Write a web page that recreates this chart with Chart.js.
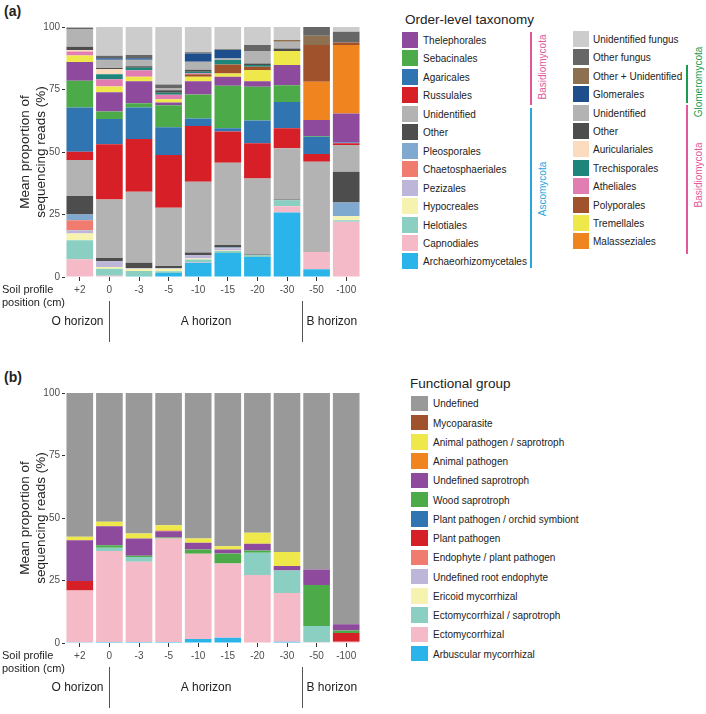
<!DOCTYPE html>
<html>
<head>
<meta charset="utf-8">
<title>Fungal community by soil depth</title>
<script src="https://cdn.jsdelivr.net/npm/chart.js@4/dist/chart.umd.min.js"></script>
<style>
  body { margin: 0; width: 706px; height: 714px; overflow: hidden; background: #fff;
         font-family: "Liberation Sans", Arial, sans-serif; color: #222; position: relative; }
  canvas { position: absolute; left: 0; }
  .tag { position: absolute; left: 4px; font-weight: bold; font-size: 14px; }
  .sw { position: absolute; }
  .lbl { position: absolute; font-size: 10px; white-space: nowrap; transform: translateY(-50%); }
  .ttl { position: absolute; font-size: 13.5px; white-space: nowrap; transform: translateY(-50%); }
  .brk { position: absolute; width: 2px; }
  .vt { position: absolute; font-size: 10px; white-space: nowrap; transform: translate(-50%, -50%) rotate(-90deg); }
</style>
</head>
<body>
<div class="tag" style="top:3px;">(a)</div>
<div class="tag" style="top:369px;">(b)</div>
<canvas id="chartA" width="380" height="350" style="top:0px;"></canvas>
<canvas id="chartB" width="380" height="350" style="top:366px;"></canvas>
<div id="legends"></div>

<script>
// soil depth (cm)
const depths = ['+2', '0', '-3', '-5', '-10', '-15', '-20', '-30', '-50', '-100'];
const horizons = ['O horizon', 'A horizon', 'B horizon'];

// (a) order-level taxonomy, % of reads, stacked bottom -> top
const archaeorhizomycetales = [0, 0, 0.3, 1.6, 5.7, 9.6, 8.0, 25.8, 3.1, 0];
const capnodiales = [7.1, 0.5, 0, 0, 0.3, 0, 0, 2.5, 6.9, 22.1];
const helotiales = [7.6, 2.8, 2.1, 0.7, 1.0, 0.8, 0.7, 2.4, 0, 0.6];
const hypocreales = [2.7, 0.7, 0.9, 1.0, 0.4, 0.2, 0, 0, 0, 1.6];
const pezizales = [1.3, 2.3, 0.3, 0.3, 1.3, 0.9, 0, 0, 0, 0];
const chaetosphaeriales = [4.0, 0, 0, 0, 0, 0, 0, 0, 0, 0];
const pleosporales = [2.3, 0, 0, 0, 0, 0.3, 0, 0, 0, 5.5];
const ascoOther = [7.4, 1.3, 2.1, 0.8, 1.1, 1.0, 0.3, 0.3, 0, 12.3];
const ascoUnidentified = [14.4, 23.4, 28.4, 23.3, 28.3, 32.9, 30.4, 20.5, 36.1, 10.7];
const russulales = [3.3, 22.1, 21.1, 21.1, 22.3, 12.5, 14.1, 8.0, 3.1, 0.7];
const agaricales = [17.7, 10.1, 12.6, 11.1, 3.0, 1.3, 9.1, 10.5, 6.9, 0.3];
const sebacinales = [10.7, 3.0, 1.7, 8.8, 9.6, 17.0, 13.5, 6.7, 0.3, 0];
const thelephorales = [7.5, 7.7, 8.8, 1.1, 5.3, 3.6, 2.2, 8.1, 6.4, 11.6];
const malasseziales = [0, 0, 0, 0, 0, 0, 0, 0, 15.3, 27.4];
const tremellales = [2.6, 2.3, 1.8, 1.3, 1.8, 1.3, 4.5, 5.6, 0, 0];
const polyporales = [0, 0, 0, 0, 1.0, 3.6, 1.3, 0, 14.7, 1.0];
const atheliales = [1.6, 2.9, 2.6, 1.8, 0.4, 0, 0, 0, 0, 0];
const trechisporales = [0, 2.0, 1.0, 0.8, 0.6, 1.8, 0.7, 0, 0, 0];
const auriculariales = [0.6, 2.1, 0, 0, 0, 0, 0, 0, 0, 0];
const basidioOther = [1.3, 0.4, 0.6, 1.0, 0.8, 0, 0.6, 1.0, 0, 0];
const basidioUnidentified = [6.9, 3.3, 2.6, 0.7, 3.2, 0.6, 5.0, 2.7, 0, 0];
const glomerales = [0, 0.6, 0.6, 0, 3.3, 3.4, 0, 0, 0, 0];
const glomOtherUnidentified = [0, 0, 0, 0, 0, 0, 0, 0.7, 3.7, 0];
const otherFungus = [0.7, 1.0, 1.3, 1.6, 0.5, 0.3, 2.4, 0, 3.5, 4.3];
const unidentifiedFungus = [0.3, 11.5, 11.2, 23.0, 10.1, 8.9, 7.2, 5.2, 0, 1.9];

// (b) functional groups, % of reads, stacked bottom -> top
const arbuscular = [0.3, 0.4, 0.4, 0.4, 1.6, 2.1, 0.2, 0.5, 0, 0];
const ectomycorrhizal = [20.7, 36.4, 32.1, 41.4, 34.1, 29.7, 27.0, 19.5, 0.3, 0.5];
const ectoSaprotroph = [0, 1.3, 1.9, 0, 0, 0, 8.9, 9.0, 6.5, 0];
const ericoid = [0, 0, 0, 0, 0, 0, 0, 0, 0, 0];
const rootEndophyte = [0, 0, 0, 0, 0, 0, 0, 0, 0, 0];
const endophytePathogen = [0, 0, 0, 0, 0, 0, 0, 0, 0, 0];
const plantPathogen = [3.8, 0, 0, 0, 0, 0, 0, 0, 0, 3.5];
const orchidSymbiont = [0, 0, 0, 0, 0, 0, 0, 0, 0, 0];
const woodSaprotroph = [0, 1.0, 0.5, 0.4, 1.7, 4.0, 0.9, 0, 16.4, 1.0];
const undefinedSaprotroph = [16.3, 7.6, 6.9, 2.5, 2.7, 1.6, 2.7, 1.8, 6.2, 2.5];
const animalPathogen = [0, 0, 0, 0.3, 0, 0, 0, 0, 0, 0];
const animalSaprotroph = [1.4, 1.8, 2.0, 2.1, 1.7, 1.3, 4.4, 5.6, 0, 0];
const mycoparasite = [0, 0, 0, 0, 0, 0, 0, 0, 0, 0];
const undefinedGroup = [57.5, 51.5, 56.2, 52.9, 58.2, 61.3, 55.9, 63.6, 70.6, 92.5];

const seriesA = [
  ['Archaeorhizomycetales', archaeorhizomycetales, '#2bb4e9'],
  ['Capnodiales', capnodiales, '#f5bac8'],
  ['Helotiales', helotiales, '#8acfc1'],
  ['Hypocreales', hypocreales, '#f6f3b1'],
  ['Pezizales', pezizales, '#bdb6d9'],
  ['Chaetosphaeriales', chaetosphaeriales, '#f07c70'],
  ['Pleosporales', pleosporales, '#7fa9cf'],
  ['Other', ascoOther, '#4d4d4d'],
  ['Unidentified', ascoUnidentified, '#b3b3b3'],
  ['Russulales', russulales, '#d61f26'],
  ['Agaricales', agaricales, '#3174b2'],
  ['Sebacinales', sebacinales, '#4cab48'],
  ['Thelephorales', thelephorales, '#8e4a9d'],
  ['Malasseziales', malasseziales, '#f0851f'],
  ['Tremellales', tremellales, '#efe84a'],
  ['Polyporales', polyporales, '#a0522d'],
  ['Atheliales', atheliales, '#e27db1'],
  ['Trechisporales', trechisporales, '#1e857a'],
  ['Auriculariales', auriculariales, '#fbdcbf'],
  ['Other', basidioOther, '#4d4d4d'],
  ['Unidentified', basidioUnidentified, '#b3b3b3'],
  ['Glomerales', glomerales, '#1f4e8c'],
  ['Other + Unidentified', glomOtherUnidentified, '#8c7050'],
  ['Other fungus', otherFungus, '#666666'],
  ['Unidentified fungus', unidentifiedFungus, '#cccccc']
];

const seriesB = [
  ['Arbuscular mycorrhizal', arbuscular, '#2bb4e9'],
  ['Ectomycorrhizal', ectomycorrhizal, '#f5bac8'],
  ['Ectomycorrhizal / saprotroph', ectoSaprotroph, '#8acfc1'],
  ['Ericoid mycorrhizal', ericoid, '#f6f3b1'],
  ['Undefined root endophyte', rootEndophyte, '#bdb6d9'],
  ['Endophyte / plant pathogen', endophytePathogen, '#f07c70'],
  ['Plant pathogen', plantPathogen, '#d61f26'],
  ['Plant pathogen / orchid symbiont', orchidSymbiont, '#3174b2'],
  ['Wood saprotroph', woodSaprotroph, '#4cab48'],
  ['Undefined saprotroph', undefinedSaprotroph, '#8e4a9d'],
  ['Animal pathogen', animalPathogen, '#f0851f'],
  ['Animal pathogen / saprotroph', animalSaprotroph, '#efe84a'],
  ['Mycoparasite', mycoparasite, '#a0522d'],
  ['Undefined', undefinedGroup, '#999999']
];

const FONT = '"Liberation Sans", Arial, sans-serif';

// horizon brackets + "Soil profile position" under the x axis
const horizonPlugin = {
  id: 'horizons',
  afterDraw(chart) {
    const ctx = chart.ctx;
    const x = chart.scales.x;
    const bot = chart.chartArea.bottom;
    const cut1 = Math.round(x.getPixelForValue(1)) + 0.5;
    const cut2 = Math.round((x.getPixelForValue(7) + x.getPixelForValue(8)) / 2) + 0.5;
    ctx.save();
    ctx.strokeStyle = '#555';
    ctx.lineWidth = 1;
    [cut1, cut2].forEach(px => {
      ctx.beginPath();
      ctx.moveTo(px, bot + 24);
      ctx.lineTo(px, bot + 65);
      ctx.stroke();
    });
    ctx.fillStyle = '#222';
    ctx.textBaseline = 'middle';
    ctx.font = '12px ' + FONT;
    ctx.textAlign = 'right';
    ctx.fillText(horizons[0], cut1 - 6, bot + 45);
    ctx.textAlign = 'center';
    ctx.fillText(horizons[1], (cut1 + cut2) / 2, bot + 45);
    ctx.textAlign = 'left';
    ctx.fillText(horizons[2], cut2 + 4, bot + 45);
    ctx.font = '11px ' + FONT;
    ctx.fillText('Soil profile', 2, bot + 13);
    ctx.fillText('position (cm)', 2, bot + 26);
    ctx.restore();
  }
};

function makeChart(id, series) {
  return new Chart(document.getElementById(id), {
    type: 'bar',
    data: {
      labels: depths,
      datasets: series.map(s => ({
        label: s[0],
        data: s[1],
        backgroundColor: s[2],
        borderWidth: 0,
        barPercentage: 0.9,
        categoryPercentage: 1.0
      }))
    },
    options: {
      responsive: false,
      animation: false,
      layout: { padding: { top: 27, right: 19, bottom: 50, left: 0 } },
      plugins: { legend: { display: false }, tooltip: { enabled: false } },
      scales: {
        x: {
          stacked: true,
          afterFit: s => { s.height = 23; },
          border: { display: false },
          grid: { display: true, drawOnChartArea: false, drawTicks: true, tickLength: 4, offset: false, color: '#333' },
          ticks: { color: '#4d4d4d', font: { family: FONT, size: 10 }, padding: 3, maxRotation: 0, autoSkip: false }
        },
        y: {
          stacked: true,
          min: 0,
          max: 100,
          afterFit: s => { s.width = 65; },
          border: { display: false },
          grid: { display: true, drawOnChartArea: false, drawTicks: true, tickLength: 3, color: '#333' },
          ticks: { stepSize: 25, color: '#4d4d4d', font: { family: FONT, size: 10 }, padding: 2 },
          title: {
            display: true,
            text: ['Mean proportion of', 'sequencing reads (%)'],
            color: '#222',
            font: { family: FONT, size: 13.5, lineHeight: 1.2 },
            padding: { top: 17, bottom: 0 }
          }
        }
      }
    },
    plugins: [horizonPlugin]
  });
}

makeChart('chartA', seriesA);
makeChart('chartB', seriesB);

// legends (HTML)
const box = document.getElementById('legends');
function el(cls, css, text) {
  const d = document.createElement('div');
  d.className = cls;
  d.style.cssText = css;
  if (text) d.textContent = text;
  box.appendChild(d);
  return d;
}
function legendColumn(items, swX, txtX, y0, step, w, h) {
  items.forEach((s, i) => {
    const cy = y0 + i * step;
    el('sw', `left:${swX}px;top:${cy - h / 2}px;width:${w}px;height:${h}px;background:${s[2]};`);
    el('lbl', `left:${txtX}px;top:${cy}px;`, s[0]);
  });
}

el('ttl', 'left:405px;top:19px;', 'Order-level taxonomy');
legendColumn(seriesA.slice(0, 13).reverse(), 402, 423, 40, 18.45, 16, 16);
legendColumn(seriesA.slice(13).reverse(), 573, 593, 39, 18.4, 16, 16);

// phylum brackets
const PINK = '#e3589c', BLUE = '#2aa6df', GREEN = '#1a9c50';
el('brk', `left:530px;top:32px;height:73px;background:${PINK};`);
el('vt', `left:542px;top:67px;color:${PINK};`, 'Basidiomycota');
el('brk', `left:530px;top:108px;height:160px;background:${BLUE};`);
el('vt', `left:542px;top:189px;color:${BLUE};`, 'Ascomycota');
el('brk', `left:686px;top:65px;height:38px;background:${GREEN};`);
el('vt', `left:698px;top:82px;color:${GREEN};`, 'Glomeromycota');
el('brk', `left:686px;top:105px;height:149px;background:${PINK};`);
el('vt', `left:698px;top:175px;color:${PINK};`, 'Basidiomycota');

el('ttl', 'left:410px;top:383px;', 'Functional group');
legendColumn(seriesB.slice().reverse(), 411, 433, 403.3, 19.25, 16.5, 15.5);
</script>
</body>
</html>
